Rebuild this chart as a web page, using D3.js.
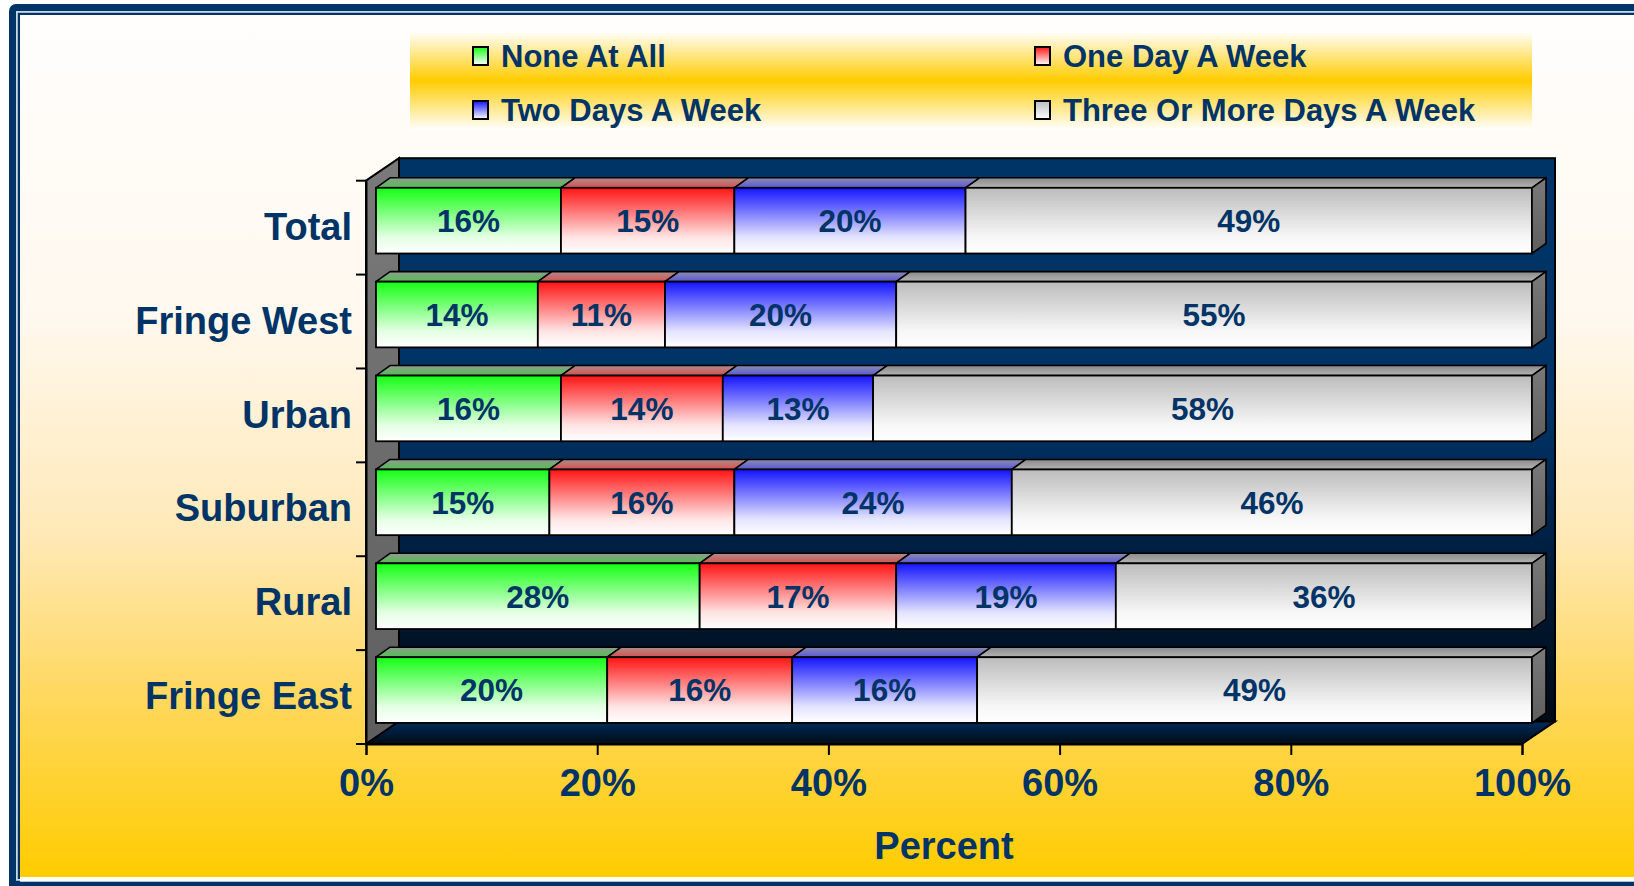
<!DOCTYPE html>
<html><head><meta charset="utf-8">
<script src="https://cdn.jsdelivr.net/npm/d3@7"></script>
<style>html,body{margin:0;padding:0;background:#fff;overflow:hidden}svg{display:block}</style>
</head><body>
<svg id="c" width="1634" height="886"></svg>
<script>
const categories = ["Total","Fringe West","Urban","Suburban","Rural","Fringe East"];
const seriesNames = ["None At All","One Day A Week","Two Days A Week","Three Or More Days A Week"];
const noneAtAll   = [16,14,16,15,28,20];
const oneDay      = [15,11,14,16,17,16];
const twoDays     = [20,20,13,24,19,16];
const threeOrMore = [49,55,58,46,36,49];
const tickValues  = [0,20,40,60,80,100];
const axisTitle   = "Percent";

const seriesColors = ["#14ff14","#ff1414","#1414ff","#bcbcbc"];
const topColors    = [["#909c90","#50c050"],["#ae8c8c","#d85050"],["#8c8cae","#5858d8"],["#8a8a8a","#b4b4b4"]];
const NAVY = "#003366";

const svg = d3.select("#c");
const defs = svg.append("defs");
const FONT = "'Liberation Sans', Arial, sans-serif";

function vgrad(id, stops){
  const g = defs.append("linearGradient").attr("id",id).attr("x1",0).attr("y1",0).attr("x2",0).attr("y2",1);
  stops.forEach(s=>g.append("stop").attr("offset",s[0]).attr("stop-color",s[1]));
}
vgrad("bg",[[0,"#fffefd"],[0.35,"#fff8ee"],[0.6,"#ffe9b8"],[0.8,"#ffd75a"],[1,"#ffcc00"]]);
vgrad("legbg",[[0,"#ffffff"],[0.5,"#ffcc00"],[1,"#ffffff"]]);
vgrad("wall",[[0,"#003366"],[0.45,"#003366"],[0.75,"#001a38"],[1,"#000a14"]]);
vgrad("floor",[[0,"#002c5c"],[1,"#000a16"]]);
vgrad("side",[[0,"#7a7a7a"],[1,"#5e5e5e"]]);
seriesColors.forEach((c,i)=>{
  vgrad("front"+i,[[0,c],[0.75,d3.interpolateRgb(c,"#ffffff")(0.88)],[1,"#ffffff"]]);
  vgrad("top"+i,[[0,topColors[i][0]],[1,topColors[i][1]]]);
  vgrad("mk"+i,[[0,c],[1,"#ffffff"]]);
});

// frame
svg.append("rect").attr("x",9).attr("y",4).attr("width",1660).attr("height",920).attr("rx",7).attr("fill",NAVY);
svg.append("rect").attr("x",16.9).attr("y",11.9).attr("width",1660).attr("height",868).attr("fill","none").attr("stroke","#d6e0ea").attr("stroke-width",1.7);
svg.append("rect").attr("x",20).attr("y",15).attr("width",1620).attr("height",862).attr("fill","url(#bg)");
svg.append("rect").attr("x",20).attr("y",877).attr("width",1620).attr("height",4.7).attr("fill","#ffffff");

// legend
svg.append("rect").attr("x",410).attr("y",31).attr("width",1122).attr("height",99).attr("fill","url(#legbg)");
const legPos = [[473,56],[1035,56],[473,110],[1035,110]];
seriesNames.forEach((n,i)=>{
  const [lx,ly] = legPos[i];
  svg.append("rect").attr("x",lx).attr("y",ly-9).attr("width",15).attr("height",18)
    .attr("fill","url(#mk"+i+")").attr("stroke","#000").attr("stroke-width",2);
  svg.append("text").attr("x",lx+28).attr("y",ly).attr("dy","0.35em")
    .attr("font-family",FONT).attr("font-weight","bold").attr("font-size",31)
    .attr("fill",NAVY).text(n);
});

// scales
const X0 = 366, X1 = 1522, YT = 180.7, YB = 744;
const DX = 33, DY = -22.5;
const BDX0 = 10, BDY0 = -7;
const BDX = 14, BDY = -10;
const x = d3.scaleLinear().domain([0,100]).range([X0,X1]).clamp(true);
const y = d3.scaleBand().domain(categories).range([YT,YB]).paddingInner(0.3).paddingOuter(0.15);

const poly = pts => "M"+pts.map(p=>p.join(",")).join("L")+"Z";
svg.append("rect").attr("x",X0+DX).attr("y",YT+DY).attr("width",X1-X0).attr("height",YB-YT)
  .attr("fill","url(#wall)").attr("stroke","#000").attr("stroke-width",2);
svg.append("path").attr("d",poly([[X0,YT],[X0+DX,YT+DY],[X0+DX,YB+DY],[X0,YB]]))
  .attr("fill","url(#side)").attr("stroke","#000").attr("stroke-width",2);
svg.append("path").attr("d",poly([[X0,YB],[X0+DX,YB+DY],[X1+DX,YB+DY],[X1,YB]]))
  .attr("fill","url(#floor)").attr("stroke","#000").attr("stroke-width",2);

// data (stacked, capped at 100%)
const table = categories.map((c,i)=>({cat:c, s0:noneAtAll[i], s1:oneDay[i], s2:twoDays[i], s3:threeOrMore[i]}));
const layers = d3.stack().keys(["s0","s1","s2","s3"])(table);
const raw = [noneAtAll, oneDay, twoDays, threeOrMore];

const bw = y.bandwidth();
categories.forEach((c,ci)=>{
  const g = svg.append("g");
  const Y = y(c) + BDY0;
  layers.forEach((layer,si)=>{
    const d = layer[ci];
    const a = x(d[0]) + BDX0, b = x(d[1]) + BDX0;
    g.append("path").attr("d",poly([[a,Y],[a+BDX,Y+BDY],[b+BDX,Y+BDY],[b,Y]]))
      .attr("fill","url(#top"+si+")").attr("stroke","#000").attr("stroke-width",1.6).attr("stroke-linejoin","round");
    g.append("rect").attr("x",a).attr("y",Y).attr("width",b-a).attr("height",bw)
      .attr("fill","url(#front"+si+")").attr("stroke","#000").attr("stroke-width",1.8);
    if (si === layers.length-1){
      g.append("path").attr("d",poly([[b,Y],[b+BDX,Y+BDY],[b+BDX,Y+BDY+bw],[b,Y+bw]]))
        .attr("fill","url(#side)").attr("stroke","#000").attr("stroke-width",1.6);
    }
    g.append("text").attr("x",(a+b)/2).attr("y",Y+bw/2).attr("dy","0.36em")
      .attr("text-anchor","middle").attr("font-family",FONT).attr("font-weight","bold")
      .attr("font-size",31.5).attr("fill",NAVY).text(raw[si][ci]+"%");
  });
});

// axes
const xAxis = d3.axisBottom(x).tickValues(tickValues).tickFormat(d=>d+"%").tickSize(11).tickPadding(14);
const xg = svg.append("g").attr("transform",`translate(0,${YB})`).call(xAxis);
xg.select(".domain").attr("stroke","#000").attr("stroke-width",2);
xg.selectAll(".tick line").attr("stroke","#000").attr("stroke-width",2);
xg.selectAll(".tick text").attr("font-family",FONT).attr("font-weight","bold").attr("font-size",38).attr("fill",NAVY);

const yAxis = d3.axisLeft(y).tickSize(0).tickPadding(14);
const yg = svg.append("g").attr("transform",`translate(${X0},0)`).call(yAxis);
yg.select(".domain").attr("stroke","#000").attr("stroke-width",2);
yg.selectAll(".tick text").attr("font-family",FONT).attr("font-weight","bold").attr("font-size",38).attr("fill",NAVY);
const bounds = categories.map(c=>y(c)-y.step()*y.paddingInner()/2).concat([YB]);
yg.selectAll("line.bt").data(bounds).join("line").attr("class","bt")
  .attr("x1",-10).attr("x2",0).attr("y1",d=>d).attr("y2",d=>d).attr("stroke","#000").attr("stroke-width",2);

svg.append("text").attr("x",(X0+X1)/2).attr("y",846).attr("dy","0.35em").attr("text-anchor","middle")
  .attr("font-family",FONT).attr("font-weight","bold").attr("font-size",38).attr("fill",NAVY).text(axisTitle);
</script>
</body></html>
